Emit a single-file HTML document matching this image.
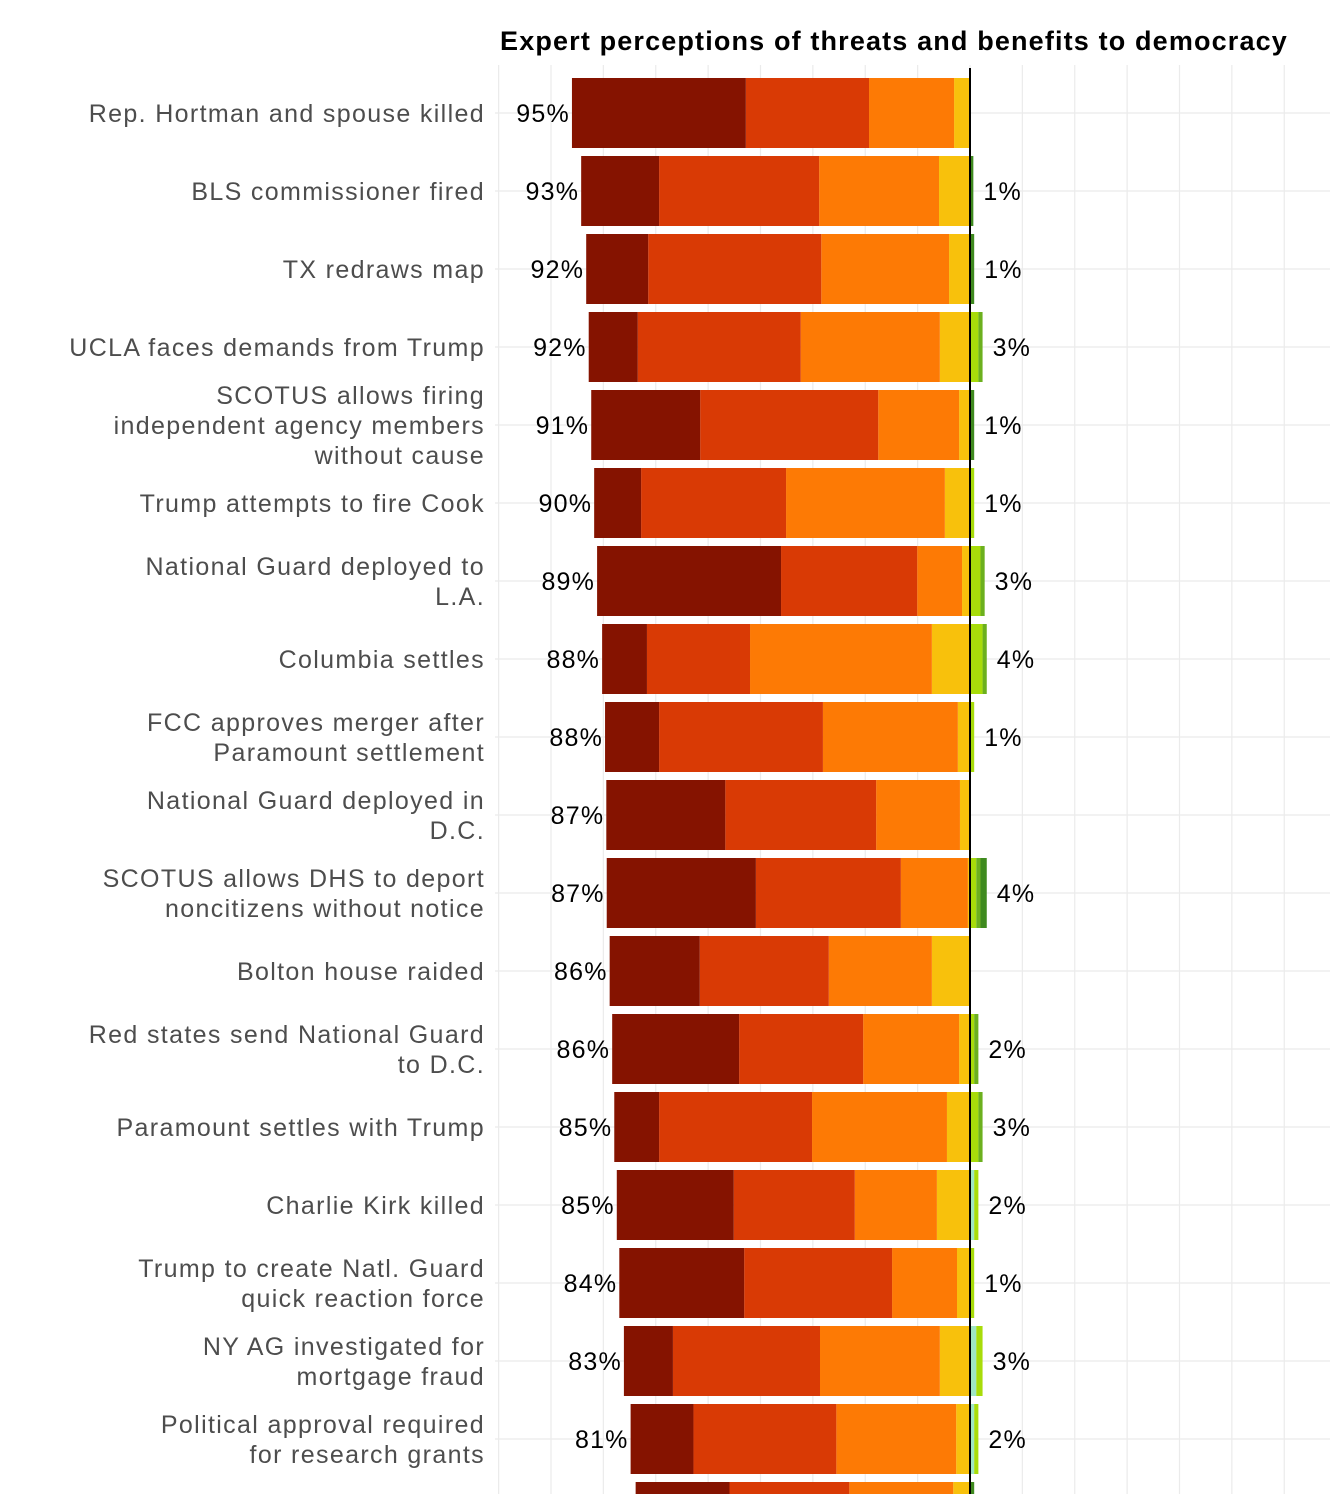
<!DOCTYPE html>
<html><head><meta charset="utf-8"><style>
html,body{margin:0;padding:0;background:#fff;}
svg{display:block;font-family:"Liberation Sans",Arial,sans-serif;}
</style></head><body>
<svg id="chart" width="1330" height="1494" viewBox="0 0 1330 1494" xmlns="http://www.w3.org/2000/svg">
<text x="894" y="50" text-anchor="middle" font-size="27" font-weight="bold" letter-spacing="1.15" fill="#000">Expert perceptions of threats and benefits to democracy</text>
<g id="grid"></g><g id="bars"></g><g id="labels"></g>
</svg>
<script>
const categories = [
 ["Rep. Hortman and spouse killed"],["BLS commissioner fired"],["TX redraws map"],["UCLA faces demands from Trump"],
 ["SCOTUS allows firing","independent agency members","without cause"],["Trump attempts to fire Cook"],
 ["National Guard deployed to","L.A."],["Columbia settles"],["FCC approves merger after","Paramount settlement"],
 ["National Guard deployed in","D.C."],["SCOTUS allows DHS to deport","noncitizens without notice"],["Bolton house raided"],
 ["Red states send National Guard","to D.C."],["Paramount settles with Trump"],["Charlie Kirk killed"],
 ["Trump to create Natl. Guard","quick reaction force"],["NY AG investigated for","mortgage fraud"],
 ["Political approval required","for research grants"],[""]
];
const threatLabels = [95,93,92,92,91,90,89,88,88,87,87,86,86,85,85,84,83,81,80];
const benefitLabels = [0,1,1,3,1,1,3,4,1,0,4,0,2,3,2,1,3,2,1];
// negative segments (percent): severe, major, moderate, minor
const severe =   [41.5,18.6,14.8,11.7,26.0,11.2,43.9,10.7,12.9,28.4,35.6,21.5,30.3,10.7,27.9,29.8,11.7,15.0,22.4];
const major =    [29.4,38.2,41.3,38.9,42.5,34.6,32.5,24.6,39.1,36.0,34.6,30.8,29.6,36.5,28.9,35.3,35.1,34.1,28.6];
const moderate = [20.3,28.6,30.5,33.2,19.3,37.9,10.7,43.4,32.2,20.0,16.0,24.6,22.9,32.2,19.6,15.5,28.6,28.6,24.8];
const minor =    [3.8,7.4,5.0,7.2,2.6,6.0,1.9,9.1,2.9,2.4,0.5,9.1,2.6,5.5,7.9,3.1,7.2,3.3,4.0];
// positive segments: slight, minor benefit, moderate benefit, major benefit
const slightB = [0,0,0,0,0,0,0,0,0,0,0,0,0,0,1,0,1.5,1,0];
const minorB =  [0,0,0,2,0,1,2.5,3,1,0,1.5,0,1,2,1,1,1.5,1,0];
const modB =    [0,0,0,1,0,0,1,1,0,0,1,0,1,1,0,0,0,0,0];
const majorB =  [0,0.8,1,0,1,0,0,0,0,0,1.5,0,0,0,0,0,0,0,1];

const NS="http://www.w3.org/2000/svg";
const zeroX=970, pxPer=4.19, rowY0=113, rowStep=78, barH=70;
const x = v => zeroX + v*pxPer;
const y = i => rowY0 + i*rowStep;
function mk(tag, attrs, parent){const e=document.createElementNS(NS,tag);for(const k in attrs)e.setAttribute(k,attrs[k]);parent.appendChild(e);return e;}
const grid=document.getElementById('grid'), bars=document.getElementById('bars'), labels=document.getElementById('labels');
for(let k=-9;k<=7;k++){
  const gx = x(k*12.5);
  if(gx<495||gx>1330) continue;
  const l=mk('line',{x1:gx,x2:gx,y1:65,y2:1494,stroke:'#ebebeb','stroke-width':1.2},grid);
  
  
}
categories.forEach((c,i)=>{
  const l=mk('line',{x1:495,x2:1330,y1:y(i),y2:y(i),stroke:'#ebebeb','stroke-width':1.2},grid);
  
  
});
const negSeries=[[minor,'#f8c10c','minor-threat'],[moderate,'#fd7a05','moderate-threat'],[major,'#d93a05','major-threat'],[severe,'#851300','severe-threat']];
const posSeries=[[slightB,'#9fe6c4','slight-benefit'],[minorB,'#a8dc0a','minor-benefit'],[modB,'#6cb01e','moderate-benefit'],[majorB,'#3f8a1f','major-benefit']];
categories.forEach((c,i)=>{
  let acc=0;
  negSeries.forEach(([arr,col,nm])=>{
    const v=arr[i]; if(v<=0){return;}
    const r=mk('rect',{x:x(-(acc+v)),y:y(i)-barH/2,width:v*pxPer,height:barH,fill:col},bars);
    
    
    acc+=v;
  });
  const negStart=x(-acc);
  let pacc=0;
  posSeries.forEach(([arr,col,nm])=>{
    const v=arr[i]; if(v<=0){return;}
    const r=mk('rect',{x:x(pacc),y:y(i)-barH/2,width:v*pxPer,height:barH,fill:col},bars);
    
    
    pacc+=v;
  });
  const t=mk('text',{x:negStart-2,y:y(i)+9,'text-anchor':'end','font-size':25,'letter-spacing':1.2,fill:'#000'},labels);
  t.textContent=threatLabels[i]+'%';
  
  
  if(benefitLabels[i]>0){
    const b=mk('text',{x:Math.max(zeroX+3,x(pacc))+10,y:y(i)+9,'font-size':25,'letter-spacing':1.2,fill:'#000'},labels);
    b.textContent=benefitLabels[i]+'%';
    
    
  }
  const n=c.length;
  c.forEach((line,j)=>{
    if(!line) return;
    const ty=y(i)+9+(j-(n-1)/2)*30;
    const tl=mk('text',{x:485,y:ty,'text-anchor':'end','font-size':25,'letter-spacing':1.35,fill:'#4d4d4d'},labels);
    tl.textContent=line;
    
    
  });
});
const z=mk('line',{x1:zeroX,x2:zeroX,y1:68,y2:1494,stroke:'#000','stroke-width':2},bars);


</script>
</body></html>
